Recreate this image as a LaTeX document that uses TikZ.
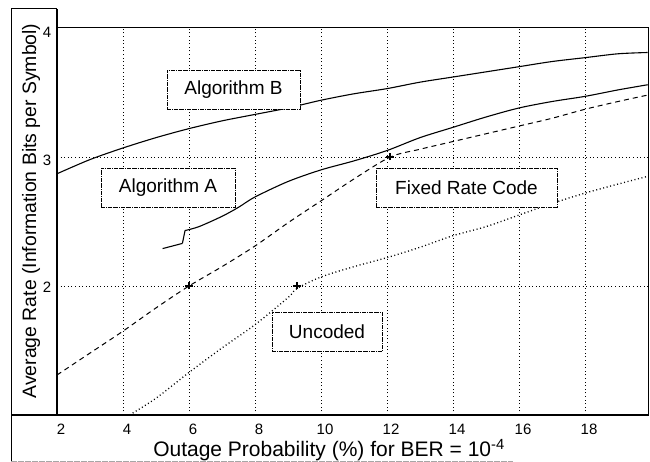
\documentclass[tikz,border=0pt]{standalone}
\usepackage{fontspec}
\setmainfont{Liberation Sans}
\begin{document}
\begin{tikzpicture}[x=1pt,y=1pt,
  gridline/.style={line width=0.9pt, dash pattern=on 1pt off 2.6pt},
  lblbox/.style={draw, line width=0.4pt, dash pattern=on 4pt off 1pt on 0.6pt off 1pt, fill=white, minimum height=39pt, inner sep=0pt, font=\fontsize{19}{22}\selectfont},
  frameline/.style={line width=1pt},
  axisline/.style={line width=1.6pt},
  curvea/.style={line width=1.1pt},
  curveb/.style={line width=1.1pt},
  curvefix/.style={line width=1pt, dash pattern=on 5pt off 4pt},
  curveunc/.style={line width=1.3pt, dash pattern=on 1pt off 2.6pt},
  tick/.style={font=\fontsize{15}{17}\selectfont, inner sep=0pt},
  mk/.style={line width=1.8pt}
]
\useasboundingbox (0,0) rectangle (650,462);

% data scope
\begin{scope}[shift={(-9,-82)}, x=33pt, y=129pt]
  % grid
  \foreach \gx in {4,6,...,18} { \draw[gridline] (\gx,1) -- (\gx,4); }
  \foreach \gy in {2,3} { \draw[gridline] (2,\gy) -- (19.9,\gy); }
  % Algorithm B
  \draw[curveb] plot[smooth, tension=0.5] coordinates {(2,2.87) (3,2.98) (4,3.07) (5,3.15) (6,3.22) (7,3.28) (8,3.33) (9,3.38) (10,3.44) (11,3.49) (12,3.53) (13,3.58) (14,3.62) (15,3.66) (16,3.70) (17,3.74) (18,3.77) (19,3.80) (19.9,3.81)};
  % Algorithm A
  \draw[curvea] plot[smooth, tension=0.4] coordinates {(5.2,2.29) (5.5,2.31) (5.8,2.33)};
  \draw[curvea] (5.8,2.33) -- (5.88,2.43);
  \draw[curvea] plot[smooth, tension=0.5] coordinates {(5.88,2.43) (6.3,2.46) (7,2.54) (7.5,2.61) (8,2.69) (9,2.81) (10,2.90) (11,2.97) (12,3.05) (13,3.15) (14,3.23) (15,3.31) (16,3.38) (17,3.43) (18,3.47) (19,3.52) (19.9,3.56)};
  % Fixed Rate Code
  \draw[curvefix] plot[smooth, tension=0.5] coordinates {(2,1.31) (3,1.48) (4,1.65) (5,1.83) (6,2.0) (7,2.15) (8,2.31) (9,2.49) (10,2.66) (11,2.83) (12.1,3.0) (13,3.06) (14,3.12) (15,3.18) (16,3.24) (17,3.30) (18,3.37) (19,3.43) (19.9,3.48)};
  % Uncoded
  \draw[curveunc] plot[smooth, tension=0.5] coordinates {(4.2,1.0) (5,1.13) (6,1.33) (7,1.52) (8,1.70) (9,1.91) (9.27,1.98) (10,2.07) (11,2.15) (12,2.22) (13,2.30) (14,2.39) (15,2.46) (16,2.55) (17,2.64) (18,2.72) (19,2.79) (19.9,2.85)};
  % markers
  \coordinate (m1) at (6,2);
  \coordinate (m2) at (9.27,2);
  \coordinate (m3) at (12.1,3);
  \foreach \m in {m1,m2,m3} {
    \draw[mk] ([xshift=-4pt]\m) -- ([xshift=4pt]\m);
    \draw[mk] ([yshift=-3.5pt]\m) -- ([yshift=3.5pt]\m);
  }
\end{scope}

% label boxes
\node[lblbox, minimum width=133pt] (algb) at (233.5,372.5) {Algorithm B};
\node[lblbox, minimum width=134pt] (alga) at (168,274.5) {Algorithm A};
\node[lblbox, minimum width=181pt] (fixed) at (466.5,274.5) {Fixed Rate Code};
\node[lblbox, minimum width=110pt] (unc) at (327,130.5) {Uncoded};

% frame
\draw[frameline] (11,0) -- (11,453) -- (57,453);
\draw[axisline] (57,453) -- (57,47);
\draw[frameline] (57,434) -- (648,434) -- (648,47);
\draw[axisline] (11,47) -- (649,47);
\draw[line width=0.6pt, gray!70, dash pattern=on 6pt off 1pt] (11,0.8) -- (513,0.8);

% y tick labels
\node[tick] (y4) at (47,430) {4};
\node[tick] (y3) at (47,302) {3};
\node[tick] (y2) at (47,175) {2};

% x tick labels
\foreach \k in {2,4,...,18} {
  \pgfmathsetmacro{\px}{33*\k-5}
  \node[tick] (x\k) at (\px,33) {\k};
}

% axis labels
\node[rotate=90, inner sep=0pt, font=\fontsize{19.4}{22}\selectfont] (ylab) at (31,251) {Average Rate (Information Bits per Symbol)};
\node[anchor=base, inner sep=0pt, font=\fontsize{21}{24}\selectfont] (xlab) at (329,5) {Outage Probability (\%) for BER = 10\textsuperscript{-4}};
\end{tikzpicture}
\end{document}
